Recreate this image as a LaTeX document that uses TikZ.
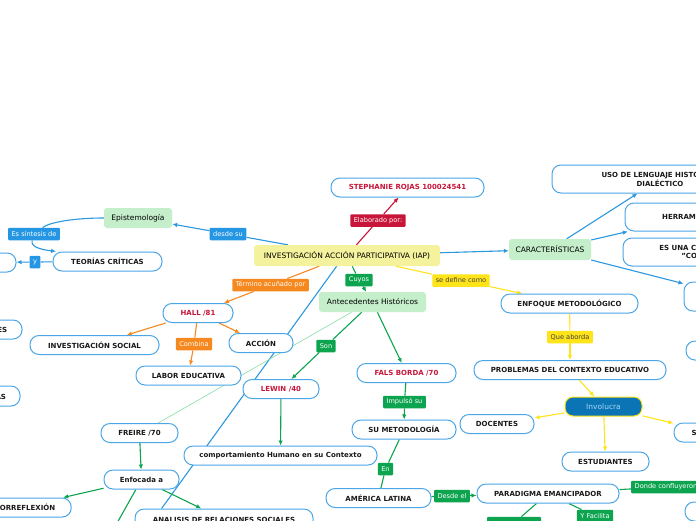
\documentclass[tikz,border=0pt]{standalone}
\usepackage{fontspec}
\setmainfont{DejaVu Sans}
\usetikzlibrary{arrows.meta,backgrounds}

\definecolor{edgeblue}{HTML}{2C98DE}
\definecolor{boxblue}{HTML}{4AA6E6}
\definecolor{namered}{HTML}{C8163A}
\definecolor{tagblue}{HTML}{2596E4}
\definecolor{taggreen}{HTML}{0DA44F}
\definecolor{tagorange}{HTML}{F5891F}
\definecolor{tagyellow}{HTML}{FFE41A}
\definecolor{paleyellow}{HTML}{F4F29C}
\definecolor{palegreen}{HTML}{C5EECB}
\definecolor{deepblue}{HTML}{0B74B5}
\definecolor{thingreen}{HTML}{86DDA6}
\definecolor{lightcyan}{HTML}{A8D8F8}

\tikzset{
  topic/.style={draw=boxblue, fill=white, line width=1pt, rounded corners=9pt,
    font=\bfseries\fontsize{7}{8.5}\selectfont, text=black!90, align=center,
    inner sep=0pt, minimum height=19pt},
  person/.style={topic, text=namered},
  central/.style={rounded corners=3pt, inner sep=0pt, minimum height=20pt,
    font=\fontsize{7.5}{9}\selectfont, text=black},
  tag/.style={rounded corners=1pt, inner xsep=3.5pt, inner ysep=0pt,
    minimum height=12.5pt, font=\fontsize{6.6}{7.5}\selectfont, text=white},
}

\begin{document}
\begin{tikzpicture}[x=1pt, y=-1pt, >={Latex[length=5pt,width=4.5pt]}]

        \useasboundingbox (0,0) rectangle (696,520);
        \clip (0,0) rectangle (696,520);

        % central topics
        \node[central, fill=paleyellow, minimum width=186pt, minimum height=21pt] (iap) at (347,255.5) {INVESTIGACIÓN ACCIÓN PARTICIPATIVA (IAP)};
        \node[central, fill=palegreen, minimum width=68pt] (epist) at (138,218) {Epistemología};
        \node[central, fill=palegreen, minimum width=82pt, minimum height=21pt] (caract) at (550,249.5) {CARACTERÍSTICAS};
        \node[central, fill=palegreen, minimum width=107pt] (antec) at (372.5,302) {Antecedentes Históricos};
        \node[central, fill=deepblue, draw=tagyellow, line width=1pt, rounded corners=8pt,
              text=lightcyan, minimum width=77pt, minimum height=19pt] (involucra) at (603.5,406.5) {Involucra};

        \begin{scope}[every node/.style={topic}]
          \node[person, minimum width=153pt] (stephanie) at (407.5,187.5) {STEPHANIE ROJAS 100024541};
          \node[minimum width=109pt] (teorias)  at (107.5,261.5) {TEORÍAS CRÍTICAS};
          \node[minimum width=92pt]  (leftcut1) at (-30,262.5)   {};
          \node[minimum width=216pt, minimum height=28pt] (uso) at (660,179) {USO DE LENGUAJE HISTÓRICO\\DIALÉCTICO};
          \node[minimum width=131pt, minimum height=28pt] (herram) at (690.5,217) {HERRAMIENTA};
          \node[minimum width=167pt, minimum height=28pt] (esuna)  at (706.5,252) {ES UNA CIENCIA SOCIAL\\"CONCRETA"};
          \node[minimum width=100pt, minimum height=29pt] (rightcut1) at (734,296.5) {};
          \node[minimum width=100pt] (rightcut2)  at (736,350.5) {};
          \node[minimum width=76pt]  (rights)     at (712,432.5) {SOCIEDAD};
          \node[minimum width=100pt] (rightcut3)  at (735,511.5) {};
          \node[minimum width=137pt] (enfoque)    at (569.5,303.5) {ENFOQUE METODOLÓGICO};
          \node[minimum width=192pt] (problemas)  at (570,370)   {PROBLEMAS DEL CONTEXTO EDUCATIVO};
          \node[minimum width=74pt]  (docentes)   at (497,424)   {DOCENTES};
          \node[minimum width=87pt]  (estudiantes) at (605.5,461.5) {ESTUDIANTES};
          \node[person, minimum width=99pt] (fals) at (406.5,373) {FALS BORDA /70};
          \node[minimum width=104pt] (metodologia) at (404,429.5) {SU METODOLOGÍA};
          \node[minimum width=105pt] (america)    at (378.5,498) {AMÉRICA LATINA};
          \node[minimum width=142pt] (paradigma)  at (548,493.5) {PARADIGMA EMANCIPADOR};
          \node[person, minimum width=70pt] (hall) at (198,313) {HALL /81};
          \node[minimum width=129pt] (invsocial)  at (94.5,345)  {INVESTIGACIÓN SOCIAL};
          \node[minimum width=105pt] (labor)      at (188.5,375.5) {LABOR EDUCATIVA};
          \node[minimum width=64pt]  (accion)     at (261,343)   {ACCIÓN};
          \node[minimum width=107pt] (leftes)     at (-31.5,329.5) {CIENCIAS SOCIALES};
          \node[minimum width=72pt, minimum height=20pt] (lefts) at (-16,396) {PRÁCTICAS};
          \node[person, minimum width=76pt] (lewin) at (281,389) {LEWIN /40};
          \node[minimum width=193pt] (comportamiento) at (280.5,455.5) {comportamiento Humano en su Contexto};
          \node[minimum width=77pt]  (freire)     at (139.5,433) {FREIRE /70};
          \node[minimum width=75pt]  (enfocada)   at (141.5,479.5) {Enfocada a};
          \node[minimum width=103pt] (autorreflexion) at (19.7,507.5) {AUTORREFLEXIÓN};
          \node[minimum width=178pt, minimum height=21pt] (analisis) at (224,519.5) {ANALISIS DE RELACIONES SOCIALES};
        \end{scope}

        \coordinate (enfdown) at (112,532);

        % connector labels
        \begin{scope}[every node/.style={tag}]
          \node[fill=namered]   (elaborado)  at (378,220.5) {Elaborado por:};
          \node[fill=tagblue]   (desdesu)    at (228,234)   {desde su};
          \node[fill=tagblue]   (essintesis) at (34,234)    {Es síntesis de};
          \node[fill=tagblue]   (ytag)       at (35,262)    {y};
          \node[fill=tagyellow, text=black!75] (sedefine)  at (461,280.5) {se define como};
          \node[fill=tagyellow, text=black!75] (queaborda) at (570,337)   {Que aborda};
          \node[fill=taggreen]  (cuyos)      at (359,280)   {Cuyos};
          \node[fill=taggreen]  (son)        at (326,346)   {Son};
          \node[fill=taggreen]  (impulso)    at (404.5,402) {Impulsó su};
          \node[fill=taggreen]  (en)         at (385.5,469) {En};
          \node[fill=taggreen]  (desdeel)    at (452,496)   {Desde el};
          \node[fill=taggreen, anchor=west] (donde) at (631,487) {Donde confluyeron};
          \node[fill=taggreen]  (yfacilita)  at (595,516)   {Y Facilita};
          \node[fill=taggreen, minimum width=54pt] (bottomtag) at (514,523) {};
          \node[fill=tagorange] (termino)    at (270.5,285) {Término acuñado por};
          \node[fill=tagorange] (combina)    at (194,344)   {Combina};
        \end{scope}

        \begin{scope}[on background layer]
          \fill[white] (0,0) rectangle (696,520);

          \begin{scope}[every edge/.style={draw=edgeblue, line width=1.1pt}]
            \path (iap)     edge (desdesu);
            \path (desdesu) edge[->] (epist);
            \path (teorias) edge (ytag);
            \path (ytag)    edge[->] (leftcut1);
            \path (iap)     edge[->] (caract);
            \path (caract)  edge[->] (uso);
            \path (caract)  edge[->] (herram);
            \path (caract)  edge[->] (rightcut1);
            \path (iap.226) edge (analisis.170);
          \end{scope}
          \draw[edgeblue, line width=1.1pt] (epist.west) .. controls (75,218) and (50,222) .. (essintesis);
          \draw[edgeblue, line width=1.1pt, ->] (essintesis) .. controls (30,248) and (45,250) .. (teorias.169);

          \begin{scope}[every edge/.style={draw=namered, line width=1.1pt}]
            \path (iap)       edge (elaborado);
            \path (elaborado) edge[->] (stephanie);
          \end{scope}

          \begin{scope}[every edge/.style={draw=tagyellow, line width=1.1pt}]
            \path (iap)       edge (sedefine);
            \path (sedefine)  edge[->] (enfoque);
            \path (enfoque)   edge (queaborda);
            \path (queaborda) edge[->] (problemas);
            \path (problemas) edge[->] (involucra);
            \path (involucra) edge[->] (docentes);
            \path (involucra) edge[->] (estudiantes);
            \path (involucra) edge[->] (rights);
          \end{scope}

          \begin{scope}[every edge/.style={draw=tagorange, line width=1.1pt}]
            \path (iap)     edge (termino);
            \path (termino) edge[->] (hall);
            \path (hall)    edge[->] (invsocial);
            \path (hall)    edge (combina);
            \path (combina) edge[->] (labor);
            \path (hall)    edge[->] (accion);
          \end{scope}

          \draw[thingreen, line width=0.6pt] (antec.206) -- (freire.28);

          \begin{scope}[every edge/.style={draw=taggreen, line width=1.1pt}]
            \path (iap)       edge (cuyos);
            \path (cuyos)     edge[->] (antec);
            \path (antec)     edge (son);
            \path (son)       edge[->] (lewin);
            \path (antec)     edge[->] (fals);
            \path (fals)      edge (impulso);
            \path (impulso)   edge[->] (metodologia);
            \path (metodologia) edge (en);
            \path (en)        edge (america);
            \path (america)   edge (desdeel);
            \path (desdeel)   edge[->] (paradigma);
            \path (paradigma) edge (donde);
            \path (paradigma) edge (yfacilita);
            \path (paradigma) edge (bottomtag);
            \path (lewin)     edge[->] (comportamiento);
            \path (freire)    edge[->] (enfocada);
            \path (enfocada)  edge[->] (autorreflexion);
            \path (enfocada)  edge[->] (analisis);
            \path (enfocada)  edge (enfdown);
          \end{scope}
        \end{scope}

\end{tikzpicture}
\end{document}
